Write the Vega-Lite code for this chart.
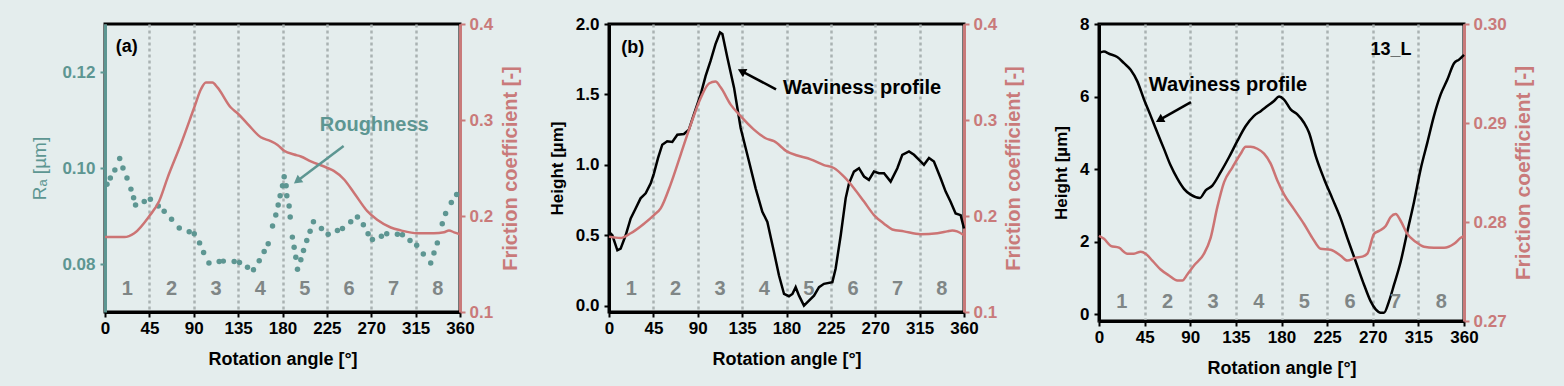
{
"$schema":"https://vega.github.io/schema/vega-lite/v6.json",
"background":"#e4eded",
"autosize":{"type":"pad"},
"padding":{"left":29,"top":13,"right":40,"bottom":20},
"bounds":"flush",
"spacing":0,
"datasets":{
"regions":[{"a":22.5,"t":"1"},{"a":67.5,"t":"2"},{"a":112.5,"t":"3"},{"a":157.5,"t":"4"},{"a":202.5,"t":"5"},{"a":247.5,"t":"6"},{"a":292.5,"t":"7"},{"a":337.5,"t":"8"}],
"ra":[{"a":2,"r":0.0966},{"a":5.4,"r":0.0979},{"a":10,"r":0.0996},{"a":14.9,"r":0.102},{"a":18.2,"r":0.1},{"a":22.3,"r":0.0979},{"a":26.3,"r":0.0956},{"a":29,"r":0.0938},{"a":31,"r":0.0923},{"a":39.8,"r":0.093},{"a":46,"r":0.0935},{"a":54,"r":0.0921},{"a":60,"r":0.091},{"a":67.5,"r":0.0893},{"a":75.3,"r":0.0875},{"a":85.4,"r":0.0867},{"a":90.5,"r":0.0863},{"a":95.9,"r":0.0844},{"a":100,"r":0.0824},{"a":105.4,"r":0.0802},{"a":115.8,"r":0.0805},{"a":120,"r":0.0806},{"a":131,"r":0.0805},{"a":136.4,"r":0.0803},{"a":144.5,"r":0.0793},{"a":150.6,"r":0.0788},{"a":156.4,"r":0.0807},{"a":161.4,"r":0.0826},{"a":165.5,"r":0.0842},{"a":169.9,"r":0.0879},{"a":173.2,"r":0.0902},{"a":175.6,"r":0.0923},{"a":177.6,"r":0.0942},{"a":180,"r":0.0963},{"a":181.7,"r":0.0982},{"a":183.7,"r":0.0963},{"a":184.4,"r":0.0942},{"a":186.7,"r":0.0921},{"a":187.8,"r":0.0898},{"a":190,"r":0.0856},{"a":191.8,"r":0.0835},{"a":193.5,"r":0.0814},{"a":195.2,"r":0.0789},{"a":198.6,"r":0.0809},{"a":201.3,"r":0.0828},{"a":204.6,"r":0.0849},{"a":208,"r":0.0868},{"a":211.4,"r":0.0888},{"a":219.5,"r":0.0874},{"a":226.3,"r":0.0862},{"a":235.7,"r":0.087},{"a":240.8,"r":0.0874},{"a":249.2,"r":0.0888},{"a":256,"r":0.0898},{"a":262,"r":0.0882},{"a":266.8,"r":0.0863},{"a":271.2,"r":0.0851},{"a":280.3,"r":0.0858},{"a":285.7,"r":0.0863},{"a":296.5,"r":0.0862},{"a":301.6,"r":0.0861},{"a":309.3,"r":0.0849},{"a":316.1,"r":0.0839},{"a":322.8,"r":0.0821},{"a":330.3,"r":0.0802},{"a":333.6,"r":0.0823},{"a":337,"r":0.0844},{"a":342,"r":0.0884},{"a":345.4,"r":0.0905},{"a":351.2,"r":0.0928},{"a":356.6,"r":0.0945}],
"fa":[{"a":0,"f":0.178},{"a":19.6,"f":0.178},{"a":29.7,"f":0.182},{"a":45,"f":0.2},{"a":55,"f":0.2156},{"a":63.5,"f":0.24},{"a":77,"f":0.275},{"a":90.5,"f":0.313},{"a":97.3,"f":0.332},{"a":102.3,"f":0.339},{"a":109,"f":0.339},{"a":114,"f":0.334},{"a":127.6,"f":0.313},{"a":134.4,"f":0.307},{"a":144.5,"f":0.296},{"a":158,"f":0.282},{"a":168,"f":0.278},{"a":175,"f":0.274},{"a":181.7,"f":0.268},{"a":191.8,"f":0.264},{"a":198.6,"f":0.262},{"a":208.7,"f":0.257},{"a":225.6,"f":0.25},{"a":232,"f":0.247},{"a":242.5,"f":0.238},{"a":252.6,"f":0.224},{"a":266,"f":0.205},{"a":276,"f":0.196},{"a":289.8,"f":0.188},{"a":300,"f":0.185},{"a":316.8,"f":0.182},{"a":333.6,"f":0.182},{"a":343.8,"f":0.183},{"a":348.8,"f":0.185},{"a":354,"f":0.183},{"a":360,"f":0.181}],
"wb":[{"a":0,"h":0.524},{"a":3.4,"h":0.5},{"a":8.5,"h":0.393},{"a":11.8,"h":0.405},{"a":16.9,"h":0.5},{"a":22,"h":0.619},{"a":27,"h":0.69},{"a":32,"h":0.762},{"a":37.2,"h":0.798},{"a":42.3,"h":0.869},{"a":45.6,"h":0.94},{"a":49.7,"h":1.048},{"a":54,"h":1.143},{"a":59,"h":1.167},{"a":64.2,"h":1.162},{"a":69.3,"h":1.214},{"a":76,"h":1.219},{"a":81,"h":1.25},{"a":86,"h":1.357},{"a":93,"h":1.5},{"a":98,"h":1.631},{"a":103,"h":1.738},{"a":108,"h":1.857},{"a":112.6,"h":1.94},{"a":115,"h":1.929},{"a":120,"h":1.762},{"a":126.8,"h":1.548},{"a":133.5,"h":1.262},{"a":142,"h":1.024},{"a":148.7,"h":0.833},{"a":155.5,"h":0.667},{"a":160.6,"h":0.595},{"a":167.3,"h":0.381},{"a":172.4,"h":0.214},{"a":177.5,"h":0.083},{"a":182.5,"h":0.067},{"a":186,"h":0.083},{"a":189.3,"h":0.131},{"a":192.7,"h":0.071},{"a":197.7,"h":0.0},{"a":201.8,"h":0.029},{"a":207.9,"h":0.071},{"a":213,"h":0.131},{"a":218,"h":0.155},{"a":226.5,"h":0.167},{"a":229.8,"h":0.262},{"a":235,"h":0.5},{"a":240,"h":0.762},{"a":243.4,"h":0.869},{"a":248.4,"h":0.952},{"a":253.5,"h":0.976},{"a":258.6,"h":0.917},{"a":263.6,"h":0.893},{"a":268.7,"h":0.952},{"a":273.8,"h":0.94},{"a":278.9,"h":0.94},{"a":285.6,"h":0.881},{"a":292.4,"h":0.976},{"a":297.4,"h":1.071},{"a":304.2,"h":1.095},{"a":309.3,"h":1.071},{"a":316,"h":1.024},{"a":319.4,"h":1.0},{"a":324.5,"h":1.048},{"a":329.5,"h":1.024},{"a":336.3,"h":0.905},{"a":341.4,"h":0.81},{"a":346.4,"h":0.738},{"a":351.5,"h":0.655},{"a":356.6,"h":0.643},{"a":360,"h":0.548}],
"fb":[{"a":0,"f":0.1785},{"a":11.8,"f":0.177},{"a":22,"f":0.182},{"a":35.5,"f":0.192},{"a":45.6,"f":0.201},{"a":52.4,"f":0.208},{"a":62.5,"f":0.233},{"a":72.7,"f":0.264},{"a":82.8,"f":0.295},{"a":93,"f":0.323},{"a":101.4,"f":0.338},{"a":108,"f":0.34},{"a":113.2,"f":0.334},{"a":123.4,"f":0.316},{"a":133.5,"f":0.304},{"a":147,"f":0.29},{"a":158.8,"f":0.281},{"a":167.3,"f":0.278},{"a":180.8,"f":0.267},{"a":191,"f":0.263},{"a":204.5,"f":0.259},{"a":218,"f":0.253},{"a":228,"f":0.25},{"a":238.3,"f":0.241},{"a":248.4,"f":0.229},{"a":258.6,"f":0.215},{"a":268.7,"f":0.201},{"a":278.9,"f":0.192},{"a":287.3,"f":0.186},{"a":299,"f":0.184},{"a":316,"f":0.181},{"a":333,"f":0.182},{"a":343,"f":0.184},{"a":348,"f":0.185},{"a":353,"f":0.184},{"a":360,"f":0.18}],
"wc":[{"a":0,"h":7.2},{"a":4.9,"h":7.24},{"a":9.9,"h":7.18},{"a":18,"h":7.09},{"a":24.7,"h":6.92},{"a":31.2,"h":6.74},{"a":37.8,"h":6.42},{"a":44.4,"h":5.92},{"a":51,"h":5.47},{"a":57.5,"h":5.01},{"a":64.1,"h":4.56},{"a":70.7,"h":4.1},{"a":77.3,"h":3.74},{"a":83.8,"h":3.46},{"a":90.4,"h":3.3},{"a":99.6,"h":3.21},{"a":105.2,"h":3.42},{"a":111.8,"h":3.55},{"a":120,"h":3.92},{"a":128.2,"h":4.33},{"a":136.5,"h":4.78},{"a":144.7,"h":5.19},{"a":152.9,"h":5.47},{"a":159.5,"h":5.6},{"a":166,"h":5.74},{"a":172.6,"h":5.88},{"a":177.6,"h":6.0},{"a":182.5,"h":5.92},{"a":189,"h":5.65},{"a":195.6,"h":5.51},{"a":202.2,"h":5.28},{"a":207.1,"h":5.01},{"a":213.7,"h":4.37},{"a":221.9,"h":3.74},{"a":230.2,"h":3.19},{"a":238.4,"h":2.64},{"a":245,"h":2.1},{"a":253.2,"h":1.46},{"a":261.4,"h":0.82},{"a":268,"h":0.36},{"a":272.9,"h":0.14},{"a":277.8,"h":0.05},{"a":281.1,"h":0.05},{"a":286,"h":0.36},{"a":291,"h":0.82},{"a":297.6,"h":1.46},{"a":304.1,"h":2.28},{"a":310.7,"h":3.1},{"a":317.3,"h":4.01},{"a":323.9,"h":4.74},{"a":330.4,"h":5.47},{"a":337,"h":6.06},{"a":343.6,"h":6.47},{"a":350.2,"h":6.92},{"a":355.1,"h":7.02},{"a":360,"h":7.15}],
"fc":[{"a":0,"f":0.2786},{"a":4.9,"f":0.2783},{"a":11.5,"f":0.2776},{"a":19.7,"f":0.2774},{"a":28,"f":0.2768},{"a":34.5,"f":0.2768},{"a":41.1,"f":0.277},{"a":46,"f":0.2768},{"a":52.6,"f":0.2761},{"a":60.8,"f":0.2752},{"a":69,"f":0.2746},{"a":77.3,"f":0.2741},{"a":82.2,"f":0.2741},{"a":87.1,"f":0.2747},{"a":93.7,"f":0.2756},{"a":103.6,"f":0.2768},{"a":110.1,"f":0.2784},{"a":116.7,"f":0.2815},{"a":123.3,"f":0.284},{"a":131.5,"f":0.2855},{"a":139.7,"f":0.2869},{"a":144.7,"f":0.2876},{"a":149.6,"f":0.2876},{"a":156.2,"f":0.2874},{"a":162.8,"f":0.2869},{"a":169.3,"f":0.2859},{"a":175.9,"f":0.2842},{"a":182.5,"f":0.2828},{"a":192.3,"f":0.2813},{"a":202.2,"f":0.2798},{"a":210.4,"f":0.2784},{"a":218.6,"f":0.2773},{"a":228.5,"f":0.2772},{"a":238.4,"f":0.2766},{"a":245,"f":0.2761},{"a":253.2,"f":0.2764},{"a":259.7,"f":0.2765},{"a":264.7,"f":0.2768},{"a":271.3,"f":0.2788},{"a":276.2,"f":0.2791},{"a":282.8,"f":0.2796},{"a":287.7,"f":0.2805},{"a":292.6,"f":0.2808},{"a":297.6,"f":0.2801},{"a":304.1,"f":0.2788},{"a":312.4,"f":0.278},{"a":320.6,"f":0.2775},{"a":330.4,"f":0.2774},{"a":340.3,"f":0.2774},{"a":350.2,"f":0.2778},{"a":356.8,"f":0.2784},{"a":360,"f":0.2786}]
},
"hconcat":[
{
"width":355,"height":288,
"resolve":{"scale":{"y":"independent"}},
"layer":[
{"data":{"name":"ra"},"mark":{"type":"point","filled":true,"size":30,"color":"#5d9692","opacity":1},
"encoding":{"x":{"field":"a","type":"quantitative","scale":{"domain":[0,360]},"axis":{"values":[0,45,90,135,180,225,270,315,360],"title":"Rotation angle [°]","grid":true,"gridColor":"#a9b2b2","gridDash":[3,3],"gridWidth":2.5,"domainColor":"#000","tickColor":"#000","labelColor":"#000","labelFontSize":17,"titleFontSize":18,"labelPadding":3,"titlePadding":14,"labelFlush":false}},
"y":{"field":"r","type":"quantitative","scale":{"domain":[0.07,0.13]},"axis":{"orient":"left","values":[0.08,0.1,0.12],"format":".2f","title":"Rₐ [µm]","titleColor":"#5d9692","titleFontWeight":"normal","titleFontSize":19,"labelColor":"#5d9692","domainColor":"#5d9692","tickColor":"#5d9692","labelFontSize":17,"labelPadding":5,"titlePadding":12}}}},
{"data":{"name":"fa"},"mark":{"type":"line","color":"#cc7474","strokeWidth":2.5,"interpolate":"monotone"},
"encoding":{"x":{"field":"a","type":"quantitative","scale":{"domain":[0,360]}},
"y":{"field":"f","type":"quantitative","scale":{"domain":[0.1,0.4]},"axis":{"orient":"right","values":[0.1,0.2,0.3,0.4],"format":".1f","title":"Friction coefficient [-]","titleAngle":270,"titleBaseline":"top","titleColor":"#c97a7a","titleFontSize":20,"labelColor":"#c97a7a","labelFontSize":17,"domainColor":"#c97a7a","tickColor":"#c97a7a","tickSize":5,"labelPadding":4,"titlePadding":8}}}},
{"data":{"name":"regions"},"mark":{"type":"text","fontSize":20,"fontWeight":"bold","color":"#7f8686"},
"encoding":{"x":{"field":"a","type":"quantitative","scale":{"domain":[0,360]}},"y":{"datum":0.0748,"type":"quantitative","scale":{"domain":[0.07,0.13]},"axis":null},"text":{"field":"t"}}},
{"data":{"values":[{"a":22,"y":0.1253,"t":"(a)"}]},"mark":{"type":"text","fontSize":18,"fontWeight":"bold","color":"#000"},
"encoding":{"x":{"field":"a","type":"quantitative","scale":{"domain":[0,360]}},"y":{"field":"y","type":"quantitative","scale":{"domain":[0.07,0.13]},"axis":null},"text":{"field":"t"}}},
{"data":{"values":[{"a":273,"y":0.109,"t":"Roughness"}]},"mark":{"type":"text","fontSize":20,"fontWeight":"bold","color":"#5d9692"},
"encoding":{"x":{"field":"a","type":"quantitative","scale":{"domain":[0,360]}},"y":{"field":"y","type":"quantitative","scale":{"domain":[0.07,0.13]},"axis":null},"text":{"field":"t"}}},
{"data":{"values":[{"a":242,"y":0.1046,"a2":194.9,"y2":0.0973}]},"mark":{"type":"rule","color":"#5d9692","strokeWidth":2.5},
"encoding":{"x":{"field":"a","type":"quantitative","scale":{"domain":[0,360]}},"x2":{"field":"a2"},"y":{"field":"y","type":"quantitative","scale":{"domain":[0.07,0.13]},"axis":null},"y2":{"field":"y2"}}},
{"data":{"values":[{"a":194.9,"y":0.0973}]},"mark":{"type":"point","shape":"triangle-up","filled":true,"size":90,"angle":233.5,"color":"#5d9692","opacity":1},
"encoding":{"x":{"field":"a","type":"quantitative","scale":{"domain":[0,360]}},"y":{"field":"y","type":"quantitative","scale":{"domain":[0.07,0.13]},"axis":null}}}
]
},
{"width":149,"height":1,"data":{"values":[]},"mark":"point","view":{"stroke":"transparent"}},
{
"width":355,"height":288,
"resolve":{"scale":{"y":"independent"}},
"layer":[
{"data":{"name":"wb"},"mark":{"type":"line","color":"#000","strokeWidth":2.5},
"encoding":{"x":{"field":"a","type":"quantitative","scale":{"domain":[0,360]},"axis":{"values":[0,45,90,135,180,225,270,315,360],"title":"Rotation angle [°]","grid":true,"gridColor":"#a9b2b2","gridDash":[3,3],"gridWidth":2.5,"domainColor":"#000","tickColor":"#000","labelColor":"#000","labelFontSize":17,"titleFontSize":18,"labelPadding":3,"titlePadding":14,"labelFlush":false}},
"y":{"field":"h","type":"quantitative","scale":{"domain":[-0.045,2.0]},"axis":{"orient":"left","values":[0,0.5,1,1.5,2],"format":".1f","title":"Height [µm]","titleColor":"#000","titleFontSize":17,"labelColor":"#000","domainColor":"#000","tickColor":"#000","labelFontSize":17,"labelPadding":5,"titlePadding":9}}}},
{"data":{"name":"fb"},"mark":{"type":"line","color":"#cc7474","strokeWidth":2.5,"interpolate":"monotone"},
"encoding":{"x":{"field":"a","type":"quantitative","scale":{"domain":[0,360]}},
"y":{"field":"f","type":"quantitative","scale":{"domain":[0.1,0.4]},"axis":{"orient":"right","values":[0.1,0.2,0.3,0.4],"format":".1f","title":"Friction coefficient [-]","titleAngle":270,"titleBaseline":"top","titleColor":"#c97a7a","titleFontSize":20,"labelColor":"#c97a7a","labelFontSize":17,"domainColor":"#c97a7a","tickColor":"#c97a7a","tickSize":5,"labelPadding":4,"titlePadding":7}}}},
{"data":{"name":"regions"},"mark":{"type":"text","fontSize":20,"fontWeight":"bold","color":"#7f8686"},
"encoding":{"x":{"field":"a","type":"quantitative","scale":{"domain":[0,360]}},"y":{"datum":0.12,"type":"quantitative","scale":{"domain":[-0.045,2.0]},"axis":null},"text":{"field":"t"}}},
{"data":{"values":[{"a":24,"y":1.83,"t":"(b)"}]},"mark":{"type":"text","fontSize":18,"fontWeight":"bold","color":"#000"},
"encoding":{"x":{"field":"a","type":"quantitative","scale":{"domain":[0,360]}},"y":{"field":"y","type":"quantitative","scale":{"domain":[-0.045,2.0]},"axis":null},"text":{"field":"t"}}},
{"data":{"values":[{"a":256.6,"y":1.543,"t":"Waviness profile"}]},"mark":{"type":"text","fontSize":20,"fontWeight":"bold","color":"#000"},
"encoding":{"x":{"field":"a","type":"quantitative","scale":{"domain":[0,360]}},"y":{"field":"y","type":"quantitative","scale":{"domain":[-0.045,2.0]},"axis":null},"text":{"field":"t"}}},
{"data":{"values":[{"a":169.4,"y":1.536,"a2":134.4,"y2":1.665}]},"mark":{"type":"rule","color":"#000","strokeWidth":2.5},
"encoding":{"x":{"field":"a","type":"quantitative","scale":{"domain":[0,360]}},"x2":{"field":"a2"},"y":{"field":"y","type":"quantitative","scale":{"domain":[-0.045,2.0]},"axis":null},"y2":{"field":"y2"}}},
{"data":{"values":[{"a":134.4,"y":1.665}]},"mark":{"type":"point","shape":"triangle-up","filled":true,"size":90,"angle":297.8,"color":"#000","opacity":1},
"encoding":{"x":{"field":"a","type":"quantitative","scale":{"domain":[0,360]}},"y":{"field":"y","type":"quantitative","scale":{"domain":[-0.045,2.0]},"axis":null}}}
]
},
{"width":135,"height":1,"data":{"values":[]},"mark":"point","view":{"stroke":"transparent"}},
{
"width":365,"height":297,
"resolve":{"scale":{"y":"independent"}},
"layer":[
{"data":{"name":"wc"},"mark":{"type":"line","color":"#000","strokeWidth":2.5,"interpolate":"monotone"},
"encoding":{"x":{"field":"a","type":"quantitative","scale":{"domain":[0,360]},"axis":{"values":[0,45,90,135,180,225,270,315,360],"title":"Rotation angle [°]","grid":true,"gridColor":"#a9b2b2","gridDash":[3,3],"gridWidth":2.5,"domainColor":"#000","tickColor":"#000","labelColor":"#000","labelFontSize":17,"titleFontSize":18,"labelPadding":3,"titlePadding":14,"labelFlush":false}},
"y":{"field":"h","type":"quantitative","scale":{"domain":[-0.18,8]},"axis":{"orient":"left","values":[0,2,4,6,8],"format":"d","title":"Height [µm]","titleColor":"#000","titleFontSize":17,"labelColor":"#000","domainColor":"#000","tickColor":"#000","labelFontSize":17,"labelPadding":5,"titlePadding":9}}}},
{"data":{"name":"fc"},"mark":{"type":"line","color":"#cc7474","strokeWidth":2.5,"interpolate":"monotone"},
"encoding":{"x":{"field":"a","type":"quantitative","scale":{"domain":[0,360]}},
"y":{"field":"f","type":"quantitative","scale":{"domain":[0.27,0.3]},"axis":{"orient":"right","values":[0.27,0.28,0.29,0.3],"format":".2f","title":"Friction coefficient [-]","titleAngle":270,"titleBaseline":"top","titleColor":"#c97a7a","titleFontSize":21,"labelColor":"#c97a7a","labelFontSize":17,"domainColor":"#c97a7a","tickColor":"#c97a7a","tickSize":5,"labelPadding":4,"titlePadding":6}}}},
{"data":{"name":"regions"},"mark":{"type":"text","fontSize":20,"fontWeight":"bold","color":"#7f8686"},
"encoding":{"x":{"field":"a","type":"quantitative","scale":{"domain":[0,360]}},"y":{"datum":0.35,"type":"quantitative","scale":{"domain":[-0.18,8]},"axis":null},"text":{"field":"t"}}},
{"data":{"values":[{"a":288,"y":7.28,"t":"13_L"}]},"mark":{"type":"text","fontSize":18,"fontWeight":"bold","color":"#000"},
"encoding":{"x":{"field":"a","type":"quantitative","scale":{"domain":[0,360]}},"y":{"field":"y","type":"quantitative","scale":{"domain":[-0.18,8]},"axis":null},"text":{"field":"t"}}},
{"data":{"values":[{"a":127.2,"y":6.32,"t":"Waviness profile"}]},"mark":{"type":"text","fontSize":20,"fontWeight":"bold","color":"#000"},
"encoding":{"x":{"field":"a","type":"quantitative","scale":{"domain":[0,360]}},"y":{"field":"y","type":"quantitative","scale":{"domain":[-0.18,8]},"axis":null},"text":{"field":"t"}}},
{"data":{"values":[{"a":90.7,"y":5.85,"a2":59.7,"y2":5.36}]},"mark":{"type":"rule","color":"#000","strokeWidth":2.5},
"encoding":{"x":{"field":"a","type":"quantitative","scale":{"domain":[0,360]}},"x2":{"field":"a2"},"y":{"field":"y","type":"quantitative","scale":{"domain":[-0.18,8]},"axis":null},"y2":{"field":"y2"}}},
{"data":{"values":[{"a":59.7,"y":5.36}]},"mark":{"type":"point","shape":"triangle-up","filled":true,"size":90,"angle":240.3,"color":"#000","opacity":1},
"encoding":{"x":{"field":"a","type":"quantitative","scale":{"domain":[0,360]}},"y":{"field":"y","type":"quantitative","scale":{"domain":[-0.18,8]},"axis":null}}}
]
}
],
"config":{
"font":"Liberation Sans",
"view":{"stroke":"#000","strokeWidth":3},
"axis":{"labelFont":"Liberation Sans","titleFont":"Liberation Sans","labelFontWeight":"bold","titleFontWeight":"bold","labelFontSize":16,"domainWidth":3,"tickWidth":2,"tickSize":5,"grid":false},
"text":{"font":"Liberation Sans"}
}
}
